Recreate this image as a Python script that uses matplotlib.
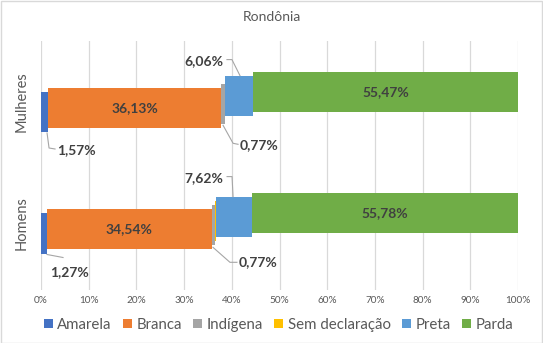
import matplotlib
matplotlib.use("Agg")
import matplotlib.pyplot as plt
from matplotlib.lines import Line2D
from matplotlib.patches import Rectangle
import numpy as np

plt.rcParams['font.family'] = ['Lato', 'DejaVu Sans']

title = "Rondônia"
categories = ["Homens", "Mulheres"]
series = ["Amarela", "Branca", "Indígena", "Sem declaração", "Preta", "Parda"]
colors = ["#4472C4", "#ED7D31", "#A5A5A5", "#FFC000", "#5B9BD5", "#70AD47"]
# values per series: [Homens, Mulheres]
amarela = [1.27, 1.57]
branca = [34.54, 36.13]
indigena = [0.77, 0.77]
sem_decl = [0.02, 0.0]
preta = [7.62, 6.06]
parda = [55.78, 55.47]
values = [amarela, branca, indigena, sem_decl, preta, parda]
xticks = [0, 10, 20, 30, 40, 50, 60, 70, 80, 90, 100]

W, H = 543, 343
fig = plt.figure(figsize=(W / 100, H / 100), dpi=100)
ax_left, ax_right, ax_top, ax_bot = 41, 518, 41, 290
ax = fig.add_axes([ax_left / W, 1 - ax_bot / H, (ax_right - ax_left) / W, (ax_bot - ax_top) / H])

k = 121.0  # pixels per category unit
d = 4.1 / k
bh = 40.5 / k
ylim_hi = 1 + (102 - ax_top) / k
ylim_lo = ylim_hi - (ax_bot - ax_top) / k
ax.set_ylim(ylim_lo, ylim_hi)
ax.set_xlim(0, 100)

ypos = np.arange(len(categories))
lefts = np.zeros(len(categories))
bars = []
geo = {}
for i, (name, vals, col) in enumerate(zip(series, values, colors)):
    yc = ypos + (i - 2.5) * d
    b = ax.barh(yc, vals, left=lefts, height=bh, color=col, label=name, zorder=3)
    bars.append(b)
    geo[name] = [(lefts[j], vals[j], yc[j]) for j in range(len(categories))]
    lefts = lefts + np.array(vals)

ax.set_xticks(xticks)
ax.set_xticklabels([f"{t}%" for t in xticks])
ax.tick_params(axis='x', length=0, labelsize=7.2, colors="#595959", pad=4)
ax.set_yticks(ypos)
ax.set_yticklabels(categories, rotation=90, va='center', ha='center')
ax.tick_params(axis='y', length=0, labelsize=10.5, labelcolor="#595959", pad=14)
ax.grid(axis='x', color="#D9D9D9", linewidth=0.9, zorder=0)
for s in ax.spines.values():
    s.set_visible(False)

label_color = "#404040"
fs = 10

def fmt(v):
    return f"{v:.2f}".replace(".", ",") + "%"

# inside labels
for name in ["Branca", "Parda"]:
    for (l, w, yc) in geo[name]:
        ax.text(l + w / 2, yc, fmt(w), ha='center', va='center', fontsize=fs,
                fontweight='bold', color=label_color, zorder=5)

fig.canvas.draw()
inv = fig.transFigure.inverted()

def to_fig(px, py):
    return inv.transform((px, py))

# leader label definitions: (series, cat index, anchor side, leader offsets (dx, dy down), label offset, ha)
leaders = [
    ("Amarela", 1, 'bottom', [(2.3, 0.5), (4.3, 15.5), (10.3, 16.5)], (12.3, 17.5), 'left'),
    ("Amarela", 0, 'bottom', [(3, 1), (19, 4)], (6, 19), 'left'),
    ("Indígena", 1, 'bottom', [(0.4, 1), (10.4, 19), (15.4, 20)], (17.4, 21), 'left'),
    ("Indígena", 0, 'bottom', [(-0.7, 2), (16.3, 17), (23.3, 17)], (24.5, 17), 'left'),
    ("Preta", 1, 'top', [(1, 0), (-7, -16), (-12, -16)], (-15.5, -14.5), 'right'),
    ("Preta", 0, 'top', [(-0.7, 0), (-1.7, -20), (-6.7, -20)], (-10.5, -19), 'right'),
]
for name, j, side, offs, loff, ha in leaders:
    l, w, yc = geo[name][j]
    yy = yc - bh / 2 if side == 'bottom' else yc + bh / 2
    ax_, ay_ = ax.transData.transform((l + w / 2, yy))
    pts = [to_fig(ax_ + dx, ay_ - dy) for dx, dy in offs]
    fig.add_artist(Line2D([p[0] for p in pts], [p[1] for p in pts],
                          color="#A6A6A6", linewidth=0.8, transform=fig.transFigure))
    tx, ty = to_fig(ax_ + loff[0], ay_ - loff[1])
    fig.text(tx, ty, fmt(w), ha=ha, va='center', fontsize=fs, fontweight='bold',
             color=label_color)

fig.text(0.5, 1 - 17 / H, title, ha='center', va='center', fontsize=10, color="#595959")

leg = fig.legend(handles=bars, labels=series, loc='center', bbox_to_anchor=(0.513, 1 - 325 / H),
                 ncol=6, frameon=False, fontsize=10.8, handlelength=0.6, handleheight=0.6,
                 handletextpad=0.3, columnspacing=0.75, labelcolor="#595959")

fig.add_artist(Rectangle((0.5 / W, 0.5 / H), 1 - 1.5 / W, 1 - 1.5 / H, transform=fig.transFigure,
                         fill=False, edgecolor="#D9D9D9", linewidth=1))

fig.savefig("out.png", dpi=100)
